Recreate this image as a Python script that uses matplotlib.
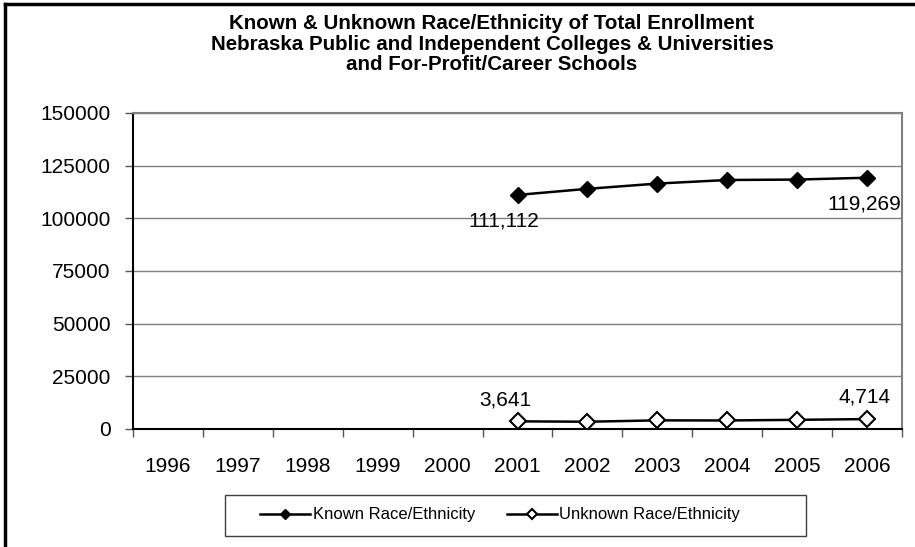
import numpy as np
import matplotlib
matplotlib.use("Agg")
import matplotlib.pyplot as plt
from matplotlib.lines import Line2D
from matplotlib.patches import Rectangle

plt.rcParams['font.family'] = ['Liberation Sans', 'DejaVu Sans']

years = ['1996', '1997', '1998', '1999', '2000', '2001', '2002', '2003', '2004', '2005', '2006']
data_years = ['2001', '2002', '2003', '2004', '2005', '2006']
known = [111112, 114000, 116500, 118200, 118400, 119269]
unknown = [3641, 3450, 4100, 4050, 4350, 4714]

title = ("Known & Unknown Race/Ethnicity of Total Enrollment\n"
         "Nebraska Public and Independent Colleges & Universities\n"
         "and For-Profit/Career Schools")

W, H = 915, 547
fig = plt.figure(figsize=(W / 100, H / 100), dpi=100)
ax = fig.add_axes([133 / W, 1 - 429 / H, 769 / W, 316 / H])

xs = [years.index(y) for y in data_years]
ax.plot(xs, known, color='black', lw=1.8, marker='D', ms=8,
        mfc='black', mec='black', label='Known Race/Ethnicity', zorder=3)
ax.plot(xs, unknown, color='black', lw=1.8, marker='D', ms=8,
        mfc='white', mec='black', mew=1.5, label='Unknown Race/Ethnicity', zorder=3)

# data labels at first and last point
fs = 15
ax.annotate(f"{known[0]:,}", (xs[0], known[0]), xytext=(-10, -19),
            textcoords='offset points', ha='center', va='center', fontsize=fs)
ax.annotate(f"{known[-1]:,}", (xs[-1], known[-1]), xytext=(-2, -19),
            textcoords='offset points', ha='center', va='center', fontsize=fs)
ax.annotate(f"{unknown[0]:,}", (xs[0], unknown[0]), xytext=(-9, 15),
            textcoords='offset points', ha='center', va='center', fontsize=fs)
ax.annotate(f"{unknown[-1]:,}", (xs[-1], unknown[-1]), xytext=(-2, 16),
            textcoords='offset points', ha='center', va='center', fontsize=fs)

ax.set_xlim(-0.5, len(years) - 0.5)
ax.set_ylim(0, 150000)
ax.set_yticks(np.arange(0, 150001, 25000))
ax.set_yticklabels([str(v) for v in range(0, 150001, 25000)], fontsize=fs)
ax.set_xticks(range(len(years)))
ax.set_xticklabels(years, fontsize=fs)
ax.set_xticks(np.arange(-0.5, len(years), 1.0), minor=True)
ax.tick_params(axis='x', which='major', length=0, pad=20)
ax.tick_params(axis='x', which='minor', length=6, color='#555555', width=1)
ax.tick_params(axis='y', length=6, color='#555555', width=1, pad=10)

ax.grid(axis='y', color='#808080', lw=1)
ax.set_axisbelow(True)
for side in ['top', 'right']:
    ax.spines[side].set_color('#808080')
    ax.spines[side].set_linewidth(1.5)
for side in ['left', 'bottom']:
    ax.spines[side].set_color('black')
    ax.spines[side].set_linewidth(1.5)

fig.text(492 / W, 1 - 44 / H, title, ha='center', va='center', fontsize=14.8,
         fontweight='bold', linespacing=1.13)

leg = fig.legend(loc='center', bbox_to_anchor=(500 / W, 1 - 515 / H), ncol=2,
                 fontsize=12, markerscale=0.6, handlelength=3.0,
                 frameon=False, borderpad=0.7, columnspacing=1.9,
                 handletextpad=0.15)

# legend box
fig.patches.append(Rectangle((225 / W, 1 - 536 / H), 581 / W, 41 / H,
                             transform=fig.transFigure, fill=False,
                             edgecolor='#404040', lw=1))

# outer chart border (only left and top are inside the picture)
fig.lines.append(Line2D([5 / W, 5 / W], [0, 1 - 4 / H],
                        transform=fig.transFigure, color='black', lw=2.5))
fig.lines.append(Line2D([5 / W, 1], [1 - 4 / H, 1 - 4 / H],
                        transform=fig.transFigure, color='black', lw=2.5))

fig.savefig('out.png', dpi=100)
